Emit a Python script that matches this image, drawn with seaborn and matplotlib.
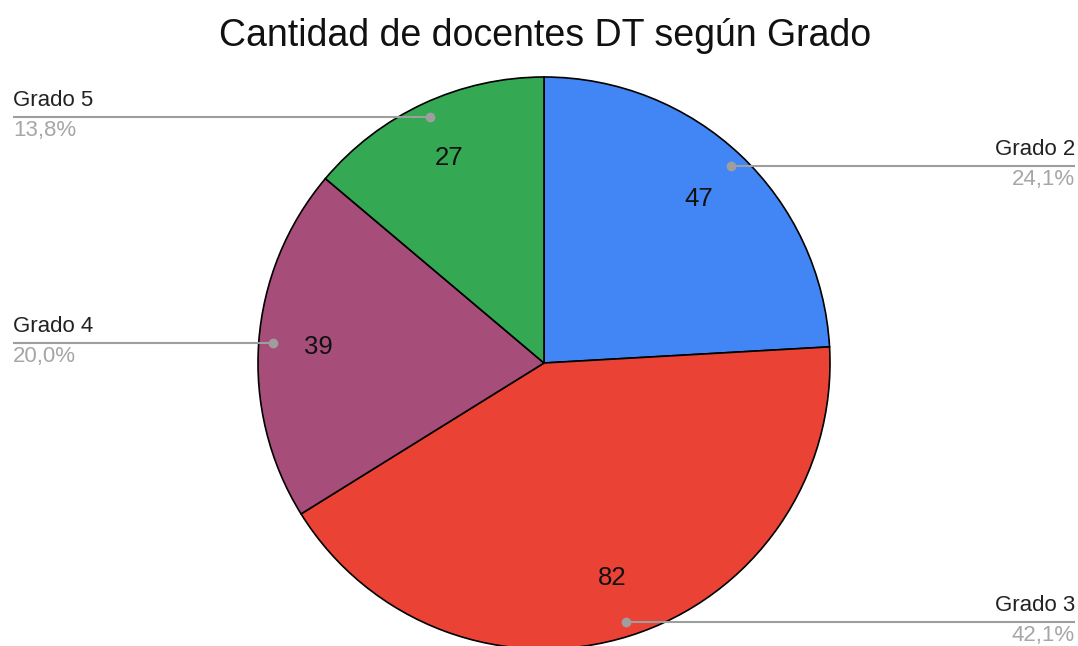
import numpy as np
import matplotlib
matplotlib.use("Agg")
import matplotlib.pyplot as plt
import seaborn as sns

# data
grados = ["Grado 2", "Grado 3", "Grado 4", "Grado 5"]
docentes = [47, 82, 39, 27]
colores = ["#4285f4", "#ea4335", "#a64d79", "#34a853"]

sns.set_style("white")
plt.rcParams["font.family"] = ["Liberation Sans", "DejaVu Sans"]

W, H = 1078, 646
fig = plt.figure(figsize=(W / 100, H / 100), dpi=100)
ax = fig.add_axes([0, 0, 1, 1])

cx, cy, r = 544, H - 363, 286
total = sum(docentes)

wedges, _, autotexts = ax.pie(
    docentes, colors=colores, startangle=90, counterclock=False,
    center=(cx, cy), radius=r, frame=True,
    autopct=lambda p: f"{round(p * total / 100)}", pctdistance=0.79,
    wedgeprops=dict(edgecolor="black", linewidth=1.2),
    textprops=dict(fontsize=18.5, color="#111111"),
)
ax.set_xlim(0, W)
ax.set_ylim(0, H)
ax.set_aspect("equal")
ax.axis("off")

gris = "#9e9e9e"
for w, nombre, val in zip(wedges, grados, docentes):
    mid = np.deg2rad((w.theta1 + w.theta2) / 2)
    px = cx + 0.95 * r * np.cos(mid)
    py = cy + 0.95 * r * np.sin(mid)
    pct = f"{val / total * 100:.1f}%".replace(".", ",")
    if np.cos(mid) >= 0:
        xend, ha = 1075, "right"
    else:
        xend, ha = 13, "left"
    ax.plot([px, xend], [py, py], color=gris, lw=1.5, solid_capstyle="butt", zorder=5)
    ax.plot(px, py, "o", color=gris, ms=6, zorder=6)
    ax.text(xend, py + 6, nombre, ha=ha, va="bottom", fontsize=16, color="#222222")
    ax.text(xend, py - 3, pct, ha=ha, va="top", fontsize=16, color="#a6a6a6")

fig.text(545 / W, 1 - 46 / H, "Cantidad de docentes DT según Grado",
         ha="center", va="baseline", fontsize=27, color="#111111")

fig.savefig("out.png", dpi=100, facecolor="white")
